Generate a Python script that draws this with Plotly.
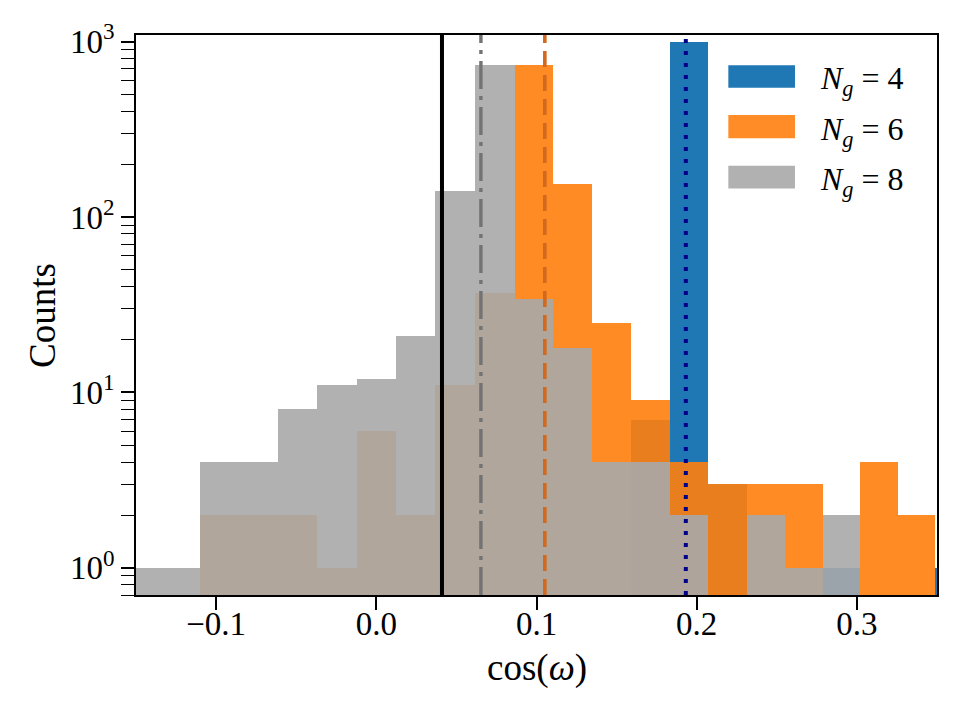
import numpy as np
import plotly.graph_objects as go

# ---------------- data ----------------
bin_edges = [-0.1590, -0.1345, -0.1100, -0.0855, -0.0611, -0.0368, -0.0122, 0.0123,
             0.0368, 0.0616, 0.0865, 0.1104, 0.1347, 0.1589, 0.1832, 0.2071,
             0.2311, 0.2550, 0.2789, 0.3022, 0.3256, 0.3490, 0.3722]
counts_ng4 = [0, 0, 0, 0, 0, 0, 0, 0, 0, 0, 0, 0, 0, 7, 990, 3, 0, 0, 1, 0, 0, 1]
counts_ng6 = [0, 0, 2, 2, 2, 1, 6, 2, 11, 37, 735, 155, 25, 9, 4, 3, 3, 3, 0, 4, 2, 0]
counts_ng8 = [1, 1, 4, 4, 8, 11, 12, 21, 140, 735, 34, 18, 4, 4, 2, 0, 2, 1, 2, 0, 0, 0]
series_labels = ["<i>N</i><sub><i>g</i></sub> = 4",
                 "<i>N</i><sub><i>g</i></sub> = 6",
                 "<i>N</i><sub><i>g</i></sub> = 8"]
ref_line_x = 0.041      # black solid
mean_ng8_x = 0.0653     # grey dash-dot
mean_ng6_x = 0.1052     # orange dashed
mean_ng4_x = 0.1932     # navy dotted
x_tickvals = [-0.1, 0.0, 0.1, 0.2, 0.3]
y_tickvals = [1, 10, 100, 1000]
y_ticktext = ["10<sup>0</sup>", "10<sup>1</sup>", "10<sup>2</sup>", "10<sup>3</sup>"]

# ---------------- styles ----------------
FONT = "Liberation Serif, Times New Roman, serif"
C_BLUE = "#1f77b4"
C_ORANGE = "#ff7f0e"
C_GREY = "#a9a9a9"
colors = [C_BLUE, C_ORANGE, C_GREY]
opac = [1.0, 0.9, 0.9]

edges = np.array(bin_edges)
centers = (edges[:-1] + edges[1:]) / 2
widths = edges[1:] - edges[:-1]

fig = go.Figure()
for counts, col, op, name in zip([counts_ng4, counts_ng6, counts_ng8], colors, opac, series_labels):
    y = [c if c > 0 else None for c in counts]
    fig.add_trace(go.Bar(x=centers, y=y, width=widths, name=name,
                         marker=dict(color=col, line=dict(width=0)),
                         opacity=op, showlegend=False))

# vertical lines
def vline(x, color, dash, w):
    fig.add_shape(type="line", xref="x", yref="paper", x0=x, x1=x, y0=0, y1=1,
                  line=dict(color=color, width=w, dash=dash), layer="above")

vline(ref_line_x, "black", "solid", 4)
vline(mean_ng8_x, "#737373", "28px,7px,4px,7px", 3.4)
vline(mean_ng6_x, "#d2691e", "16px,8px", 3.6)
vline(mean_ng4_x, "#00008b", "4px,8px", 4)

# custom legend (large patches like matplotlib)
leg_rows = [(0.906, 0.946), (0.8155, 0.857), (0.726, 0.7666)]
for (y0, y1), col, op, name in zip(leg_rows, colors, opac, series_labels):
    fig.add_shape(type="rect", xref="paper", yref="paper", x0=0.7395, x1=0.8227,
                  y0=y0, y1=y1, fillcolor=col, opacity=op, line=dict(width=0), layer="above")
    fig.add_annotation(xref="paper", yref="paper", x=0.851, y=(y0 + y1) / 2 - 0.008,
                       text=name, showarrow=False, xanchor="left", yanchor="middle",
                       font=dict(family=FONT, size=32, color="black"))

# axis titles
fig.add_annotation(xref="paper", yref="paper", x=0.5, y=-0.13, text="cos(<i>ω</i>)",
                   showarrow=False, xanchor="center", yanchor="middle",
                   font=dict(family=FONT, size=37, color="black"))
fig.add_annotation(xref="paper", yref="paper", x=-0.1174, y=0.5, text="Counts",
                   showarrow=False, xanchor="center", yanchor="middle", textangle=-90,
                   font=dict(family=FONT, size=37, color="black"))

minor_vals = [k * 10.0 ** n for n in range(-1, 4) for k in range(2, 10)]

fig.update_layout(
    width=960, height=720, autosize=False,
    margin=dict(l=136, r=23, t=35, b=125),
    paper_bgcolor="white", plot_bgcolor="white",
    barmode="overlay", bargap=0,
    font=dict(family=FONT, size=33, color="black"),
    showlegend=False,
)
fig.update_xaxes(range=[-0.15, 0.35], tickmode="array", tickvals=x_tickvals, tickformat=".1f",
                 ticks="outside", ticklen=13, tickwidth=1.6, tickcolor="black",
                 ticklabelstandoff=-14,
                 showline=True, mirror=True, linecolor="black", linewidth=1.6,
                 showgrid=False, zeroline=False, tickfont=dict(family=FONT, size=33))
fig.update_yaxes(type="log", range=[np.log10(0.7), np.log10(1090)], tickmode="array",
                 tickvals=y_tickvals, ticktext=y_ticktext,
                 ticks="outside", ticklen=13, tickwidth=1.6, tickcolor="black",
                 minor=dict(tickmode="array", tickvals=minor_vals, ticks="outside",
                            ticklen=13, tickwidth=1.2, tickcolor="black", showgrid=False),
                 showline=True, mirror=True, linecolor="black", linewidth=1.6,
                 showgrid=False, zeroline=False, tickfont=dict(family=FONT, size=33))

fig.write_html("out.html")
